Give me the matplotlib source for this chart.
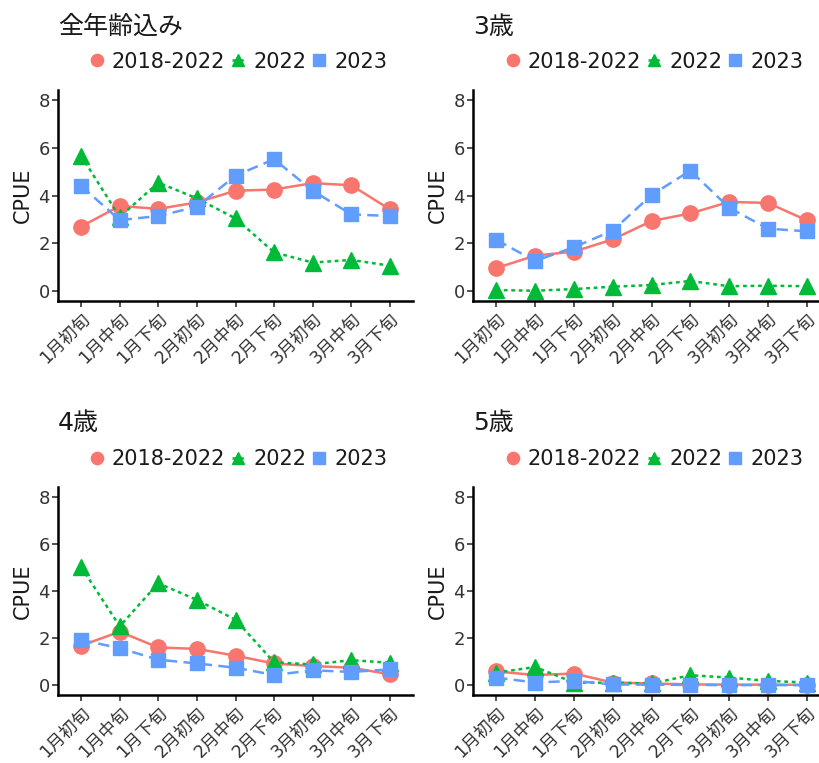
import matplotlib
matplotlib.use('Agg')
import matplotlib.pyplot as plt
import numpy as np

plt.rcParams['font.family'] = ['DejaVu Sans', 'Noto Sans CJK JP']

# 旬ごとのCPUE
periods = ['1月初旬', '1月中旬', '1月下旬', '2月初旬', '2月中旬', '2月下旬',
           '3月初旬', '3月中旬', '3月下旬']
series_names = ['2018-2022', '2022', '2023']

all_mean = [2.70, 3.56, 3.44, 3.71, 4.20, 4.25, 4.52, 4.43, 3.42]
all_2022 = [5.66, 3.10, 4.54, 3.88, 3.04, 1.62, 1.19, 1.30, 1.06]
all_2023 = [4.40, 2.97, 3.14, 3.53, 4.83, 5.52, 4.20, 3.21, 3.14]

age3_mean = [0.96, 1.48, 1.65, 2.16, 2.93, 3.25, 3.73, 3.69, 2.96]
age3_2022 = [0.04, 0.01, 0.08, 0.18, 0.25, 0.42, 0.20, 0.22, 0.20]
age3_2023 = [2.14, 1.26, 1.83, 2.53, 4.02, 5.04, 3.49, 2.61, 2.50]

age4_mean = [1.68, 2.27, 1.60, 1.54, 1.25, 0.92, 0.81, 0.74, 0.46]
age4_2022 = [5.02, 2.50, 4.33, 3.62, 2.78, 0.97, 0.88, 1.06, 0.95]
age4_2023 = [1.92, 1.57, 1.08, 0.92, 0.74, 0.43, 0.63, 0.56, 0.67]

age5_mean = [0.58, 0.43, 0.49, 0.11, 0.07, 0.03, 0.02, 0.02, 0.01]
age5_2022 = [0.53, 0.77, 0.11, 0.10, 0.07, 0.42, 0.32, 0.18, 0.11]
age5_2023 = [0.32, 0.11, 0.18, 0.03, 0.02, 0.01, 0.00, 0.00, 0.00]

titles = ['全年齢込み', '3歳', '4歳', '5歳']
data = [(all_mean, all_2022, all_2023),
        (age3_mean, age3_2022, age3_2023),
        (age4_mean, age4_2022, age4_2023),
        (age5_mean, age5_2022, age5_2023)]

colors = ['#F8766D', '#00BA38', '#619CFF']
markers = ['o', '^', 's']
styles = [(0, ()), (0, (1.5, 1.5)), (0, (4.5, 2.5))]
msizes = [11, 11, 10]

W, H = 819, 763
fig = plt.figure(figsize=(W / 100, H / 100), dpi=100)

# 各パネルの位置 (ピクセル): 左, 右, 上, 下
boxes = [(58, 413, 90, 301), (473, 830, 90, 301),
         (58, 413, 487, 695), (473, 830, 487, 695)]

x = np.arange(len(periods))
for i, (l, r, t, b) in enumerate(boxes):
    ax = fig.add_axes([l / W, 1 - b / H, (r - l) / W, (b - t) / H])
    for j, vals in enumerate(data[i]):
        ax.plot(x, vals, color=colors[j], marker=markers[j], ms=msizes[j],
                linestyle=styles[j], lw=1.8, label=series_names[j],
                clip_on=False)
    ax.set_xlim(-0.6, 8.6)
    ax.set_ylim(-0.42, 8.42)
    ax.set_yticks([0, 2, 4, 6, 8])
    ax.set_xticks(x)
    ax.set_xticklabels(periods, rotation=45, ha='right', va='top',
                       rotation_mode='anchor', fontsize=12.5, color='#333333')
    ax.tick_params(axis='y', labelsize=13, labelcolor='#333333')
    ax.tick_params(length=4, width=1.2, color='#333333', pad=2)
    for s in ['top', 'right']:
        ax.spines[s].set_visible(False)
    for s in ['left', 'bottom']:
        ax.spines[s].set_linewidth(1.8)
    ax.set_ylabel('CPUE', fontsize=15, labelpad=4, color='#1a1a1a')
    ty = 1.30 if i < 2 else 1.31
    ax.text(0, ty, titles[i], transform=ax.transAxes, fontsize=18,
            ha='left', va='center', color='#1a1a1a')
    leg = ax.legend(loc='center', bbox_to_anchor=(0.51, 1.135), ncol=3,
                    frameon=False, fontsize=15, handlelength=0.55,
                    markerscale=0.8, handletextpad=0.45, columnspacing=0.35,
                    borderpad=0)
    for txt in leg.get_texts():
        txt.set_color('#1a1a1a')

fig.savefig('out.png', dpi=100)
